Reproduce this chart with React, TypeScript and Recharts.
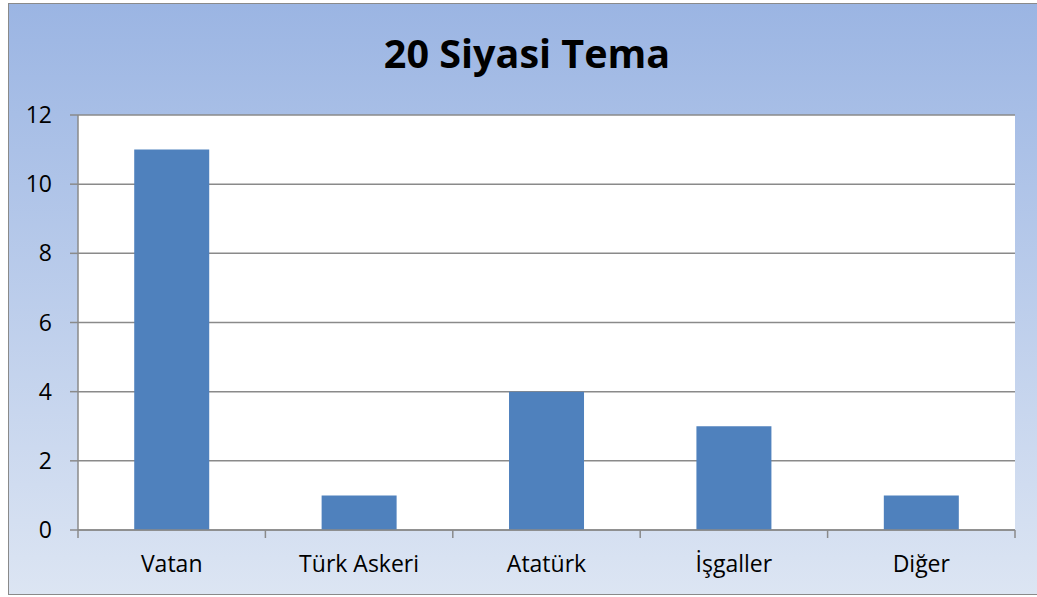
import React from "react";
import { BarChart, Bar, XAxis, YAxis, CartesianGrid } from "recharts";

const categories = ["Vatan", "Türk Askeri", "Atatürk", "İşgaller", "Diğer"];
const counts = [11, 1, 4, 3, 1];
const yTicks = [0, 2, 4, 6, 8, 10, 12];

const data = categories.map((name, i) => ({ name, value: counts[i] }));

const font = "'Open Sans', Lato, sans-serif";

// category labels with tick marks on the band edges, like Excel
const CategoryTick = (props: any) => {
  const { x, y, payload, index, width, visibleTicksCount } = props;
  const band = width / visibleTicksCount;
  const left = x - band / 2;
  return (
    <g>
      <line x1={left} y1={y - 8} x2={left} y2={y} stroke="#8a8a8a" strokeWidth={1.5} />
      {index === visibleTicksCount - 1 && (
        <line x1={x + band / 2} y1={y - 8} x2={x + band / 2} y2={y} stroke="#8a8a8a" strokeWidth={1.5} />
      )}
      <text x={x} y={y + 34} textAnchor="middle" fontSize={23} fill="#000" fontFamily={font}>
        {payload.value}
      </text>
    </g>
  );
};

export default function App() {
  return (
    <div style={{ position: "absolute", left: 0, top: 0, width: 1037, height: 597, overflow: "hidden" }}>
      <div
        style={{
          position: "absolute",
          left: 8,
          top: 3,
          width: 1040,
          height: 590,
          border: "1.5px solid #8a8a8a",
          background: "linear-gradient(to bottom, #9bb5e3, #dce5f3)",
        }}
      />
      <svg width={1037} height={110} style={{ position: "absolute", left: 0, top: 0 }}>
        <text x={527} y={68} textAnchor="middle" fontFamily={font} fontWeight="bold" fontSize={39.5} fill="#000">
          20 Siyasi Tema
        </text>
      </svg>
      <div style={{ position: "absolute", left: 0, top: 0 }}>
        <BarChart
          width={1037}
          height={597}
          data={data}
          margin={{ top: 115, right: 22, bottom: 0, left: 0 }}
          barCategoryGap="30%"
        >
          <CartesianGrid vertical={false} fill="#ffffff" stroke="#8a8a8a" strokeWidth={1.5} />
          <XAxis
            dataKey="name"
            height={67}
            axisLine={{ stroke: "#8a8a8a", strokeWidth: 1.5 }}
            tickLine={false}
            tick={<CategoryTick />}
            interval={0}
          />
          <YAxis
            width={78}
            domain={[0, 12]}
            ticks={yTicks}
            interval={0}
            axisLine={{ stroke: "#8a8a8a", strokeWidth: 1.5 }}
            tickLine={{ stroke: "#8a8a8a", strokeWidth: 1.5 }}
            tickSize={8}
            tickMargin={18}
            tick={{ fontSize: 23, fill: "#000", fontFamily: font }}
          />
          <Bar dataKey="value" fill="#4f81bd" isAnimationActive={false} />
        </BarChart>
      </div>
    </div>
  );
}
